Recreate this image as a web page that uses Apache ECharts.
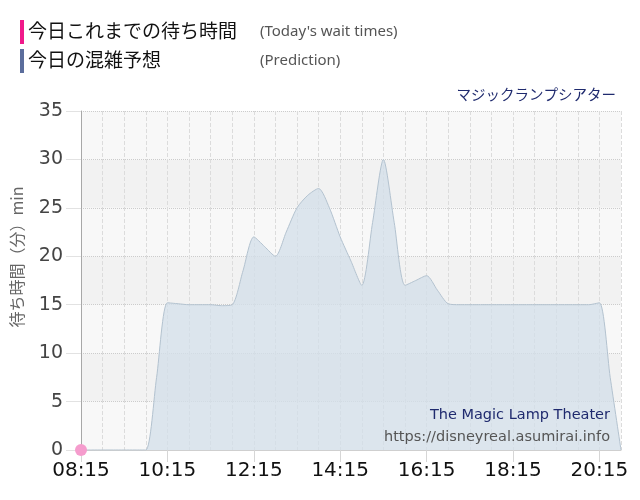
<!DOCTYPE html>
<html>
<head>
<meta charset="utf-8">
<title>マジックランプシアター 待ち時間</title>
<script src="https://cdn.jsdelivr.net/npm/echarts@6.0.0/dist/echarts.min.js"></script>
<style>
	html,body{margin:0;padding:0;background:#fff;}
	#chart{width:640px;height:500px;}
</style>
</head>
<body>
<div id="chart"></div>
<script type="text/javascript">

// 15分ごとの時刻
var times = [
	'08:15','08:30','08:45','09:00','09:15','09:30','09:45','10:00',
	'10:15','10:30','10:45','11:00','11:15','11:30','11:45','12:00',
	'12:15','12:30','12:45','13:00','13:15','13:30','13:45','14:00',
	'14:15','14:30','14:45','15:00','15:15','15:30','15:45','16:00',
	'16:15','16:30','16:45','17:00','17:15','17:30','17:45','18:00',
	'18:15','18:30','18:45','19:00','19:15','19:30','19:45','20:00',
	'20:15','20:30','20:45'
];

// 今日の混雑予想（分）
var prediction = [
	0, 0, 0, 0, 0, 0, 0, 7.5,
	15.2, 15.1, 15, 15, 15, 14.9, 15, 18.5,
	22, 21, 20, 22.5, 25, 26.3, 27, 25,
	22, 19.5, 17, 23.5, 30, 23.5, 17, 17.5,
	18, 16.5, 15.1, 15, 15, 15, 15, 15,
	15, 15, 15, 15, 15, 15, 15, 15,
	15.2, 7.5, 0
];

// 今日これまでの待ち時間（分）
var todayWait = [0];

var yMin = 0, yMax = 35, yStep = 5;

var chart = echarts.init(document.getElementById('chart'));

var option = {
	animation: false,
	backgroundColor: '#fff',
	title: {
		text: 'マジックランプシアター',
		right: 19,
		top: 82,
		textStyle: {
			fontFamily: 'Noto Sans CJK JP',
			fontSize: 14.5,
			fontWeight: 'normal',
			color: '#1f2a6e'
		}
	},
	grid: {
		left: 81,
		right: 19,
		top: 111,
		bottom: 50
	},
	xAxis: {
		type: 'category',
		data: times,
		boundaryGap: false,
		axisLine: {lineStyle: {color: '#cfcfcf'}},
		axisTick: {interval: 7, length: 12, lineStyle: {color: '#d6d6d6'}},
		axisLabel: {
			interval: 7,
			margin: 11,
			color: '#111',
			fontSize: 20,
			fontFamily: 'DejaVu Sans'
		},
		splitLine: {
			show: true,
			interval: 1,
			lineStyle: {color: '#dcdcdc', type: 'dashed'}
		}
	},
	yAxis: {
		type: 'value',
		min: yMin,
		max: yMax,
		interval: yStep,
		axisLine: {show: true, lineStyle: {color: '#a8a8a8'}},
		axisTick: {show: true, length: 15, lineStyle: {color: '#e2e2e2'}},
		axisLabel: {
			margin: 18,
			color: '#444',
			fontSize: 19,
			fontFamily: 'DejaVu Sans'
		},
		splitLine: {lineStyle: {color: '#cccccc', type: 'dotted'}},
		splitArea: {show: true, areaStyle: {color: ['#f8f8f8', '#f2f2f2']}}
	},
	series: [
		{
			name: '今日の混雑予想',
			type: 'line',
			data: prediction,
			smooth: 0.25,
			symbol: 'none',
			lineStyle: {color: '#b3c2cf', width: 1},
			areaStyle: {color: '#d3dfe9', opacity: 0.78},
			z: 2
		},
		{
			name: '今日これまでの待ち時間',
			type: 'line',
			data: todayWait,
			clip: false,
			symbol: 'circle',
			symbolSize: 12,
			itemStyle: {color: '#f59ccd'},
			lineStyle: {color: '#f0198a', width: 2},
			z: 3
		}
	],
	graphic: [
		// 凡例
		{type: 'rect', left: 20, top: 20, shape: {width: 4, height: 24}, style: {fill: '#f0198a'}},
		{type: 'text', left: 28, top: 21, style: {text: '今日これまでの待ち時間', fontFamily: 'Noto Sans CJK JP', fontSize: 19, fill: '#111'}},
		{type: 'text', left: 260, top: 24, style: {text: "(Today's wait times)", fontFamily: 'Noto Sans', fontSize: 15, fill: '#555'}},
		{type: 'rect', left: 20, top: 49, shape: {width: 4, height: 24}, style: {fill: '#5b6d9c'}},
		{type: 'text', left: 28, top: 50, style: {text: '今日の混雑予想', fontFamily: 'Noto Sans CJK JP', fontSize: 19, fill: '#111'}},
		{type: 'text', left: 260, top: 53, style: {text: '(Prediction)', fontFamily: 'Noto Sans', fontSize: 15, fill: '#555'}},
		// 縦軸タイトル
		{
			type: 'text', x: 17, y: 257, rotation: Math.PI / 2,
			style: {text: '待ち時間（分）min', fontFamily: 'Noto Sans CJK JP', fontSize: 16, fill: '#666', align: 'center', verticalAlign: 'middle'}
		},
		// 透かし
		{
			type: 'text', x: 610, y: 415, z: 10,
			style: {text: 'The Magic Lamp Theater', fontFamily: 'DejaVu Sans', fontSize: 14.5, fill: '#1f2a6e', align: 'right', verticalAlign: 'middle'}
		},
		{
			type: 'text', x: 610, y: 437, z: 10,
			style: {text: 'https://disneyreal.asumirai.info', fontFamily: 'DejaVu Sans', fontSize: 14.5, fill: '#555', align: 'right', verticalAlign: 'middle'}
		}
	]
};

chart.setOption(option);

</script>
</body>
</html>
